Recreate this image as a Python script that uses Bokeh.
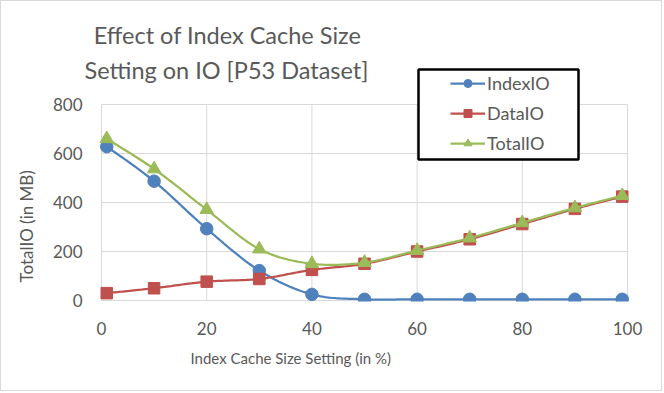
from bokeh.plotting import figure
from bokeh.models import Label, BoxAnnotation, Legend, LegendItem, FixedTicker, Title
from bokeh.embed import file_html
from bokeh.resources import INLINE

# ---- data ----
cache_pct = [1, 10, 20, 30, 40, 50, 60, 70, 80, 90, 99]
index_io = [628, 487, 293, 122, 25, 5, 5, 5, 5, 5, 5]
data_io = [30, 50, 77, 88, 125, 150, 200, 250, 312, 374, 424]
total_io = [660, 537, 371, 210, 150, 155, 204, 255, 317, 378, 428]
x_ticks = [0, 20, 40, 60, 80, 100]
y_ticks = [0, 200, 400, 600, 800]

FONT = "Lato"
GRAY = "#595959"
GRID = "#d9d9d9"
W, H = 662, 391
# pixel layout (figure pixels)
XZ, XH, YZ, Y8 = 100, 626, 299, 103      # x=0, x=100, y=0, y=800
FL, FR, FT, FB = 78, 628, 0, 300         # frame edges
kx = (XH - XZ) / (x_ticks[-1] - x_ticks[0])
ky = (YZ - Y8) / (y_ticks[-1] - y_ticks[0])


def dx(px):
    return x_ticks[0] + (px - XZ) / kx


def dy(py):
    return y_ticks[0] + (YZ - py) / ky


p = figure(width=W, height=H, x_range=(dx(FL), dx(FR)), y_range=(dy(FB), dy(FT)),
           output_backend="svg", toolbar_location=None, title=None,
           min_border_left=FL, min_border_right=W - FR,
           min_border_top=FT, min_border_bottom=H - FB)
p.background_fill_color = "white"
p.border_fill_color = "white"
p.outline_line_color = None
p.grid.visible = False
p.styles = {"border": "1px solid #d9d9d9"}

# grid lines limited to the plotting area
nx, ny = len(x_ticks), len(y_ticks)
p.segment(x0=x_ticks, y0=[y_ticks[0]] * nx, x1=x_ticks, y1=[y_ticks[-1]] * nx,
          line_color=GRID, line_width=1)
p.segment(x0=[x_ticks[0]] * ny, y0=y_ticks, x1=[x_ticks[-1]] * ny, y1=y_ticks,
          line_color=GRID, line_width=1)

for ax in (p.xaxis, p.yaxis):
    ax.axis_line_color = None
    ax.major_tick_line_color = None
    ax.minor_tick_line_color = None
    ax.major_tick_out = 0
    ax.major_tick_in = 0
    ax.minor_tick_out = 0
    ax.minor_tick_in = 0
    ax.major_label_text_font = FONT
    ax.major_label_text_font_size = "17px"
    ax.major_label_text_color = GRAY
p.xaxis.ticker = FixedTicker(ticks=x_ticks)
p.yaxis.ticker = FixedTicker(ticks=y_ticks)
p.xaxis.bounds = (x_ticks[0], x_ticks[-1])
p.yaxis.bounds = (y_ticks[0], y_ticks[-1])
p.xaxis.major_label_standoff = 20
p.yaxis.major_label_standoff = FL - 81

# axis titles
p.add_layout(Title(text="TotalIO (in MB)", align="left", offset=FB - 281,
                   text_font=FONT, text_font_size="17px", text_font_style="normal",
                   text_color=GRAY, standoff=25), "left")
p.add_layout(Title(text="Index Cache Size Setting (in %)", align="left", offset=189 - FL,
                   text_font=FONT, text_font_size="15px", text_font_style="normal",
                   text_color=GRAY, standoff=18), "below")


def smooth(xs, ys, n=24):
    pts = list(zip(xs, ys))
    ox, oy = [], []
    for i in range(len(pts) - 1):
        p0 = pts[i - 1] if i > 0 else pts[i]
        p1 = pts[i]
        p2 = pts[i + 1]
        p3 = pts[i + 2] if i + 2 < len(pts) else pts[i + 1]
        c1 = (p1[0] + (p2[0] - p0[0]) / 6.0, p1[1] + (p2[1] - p0[1]) / 6.0)
        c2 = (p2[0] - (p3[0] - p1[0]) / 6.0, p2[1] - (p3[1] - p1[1]) / 6.0)
        for k in range(n):
            t = k / n
            a, b, c, d = (1 - t) ** 3, 3 * (1 - t) ** 2 * t, 3 * (1 - t) * t ** 2, t ** 3
            ox.append(a * p1[0] + b * c1[0] + c * c2[0] + d * p2[0])
            oy.append(a * p1[1] + b * c1[1] + c * c2[1] + d * p2[1])
    ox.append(pts[-1][0])
    oy.append(pts[-1][1])
    return ox, oy


series = [
    ("IndexIO", index_io, "#4f81bd", "circle", 12.5),
    ("DataIO", data_io, "#c0504d", "square", 11.5),
    ("TotalIO", total_io, "#9bbb59", "triangle", 13.5),
]
items = []
for name, ys, col, mk, sz in series:
    sx_, sy_ = smooth(cache_pct, ys)
    ln = p.line(sx_, sy_, line_color=col, line_width=2.25)
    sc = p.scatter(cache_pct, ys, marker=mk, size=sz, fill_color=col, line_color=col)
    items.append(LegendItem(label=name, renderers=[ln, sc]))

# legend frame (white box with black border)
box = BoxAnnotation(left=dx(417), right=dx(577), top=dy(68), bottom=dy(158),
                    fill_color="white", fill_alpha=1.0, line_color="black", line_width=2.5,
                    line_alpha=1.0)
p.add_layout(box)

leg = Legend(items=items, location=(449 - FL, FB - 153), padding=5, spacing=8,
             glyph_width=35, glyph_height=20, label_height=20, label_standoff=2,
             label_text_font=FONT, label_text_font_size="18px", label_text_color=GRAY,
             border_line_color=None, background_fill_alpha=0.0)
p.add_layout(leg)

for txt, cx, cy in (("Effect of Index Cache Size", 226, 33),
                    ("Setting on IO [P53 Dataset]", 225, 68)):
    p.add_layout(Label(x=dx(cx), y=dy(cy), text=txt, text_align="center",
                       text_baseline="middle", text_font=FONT, text_font_size="23.5px",
                       text_color=GRAY))

open("out.html", "w").write(file_html(p, INLINE))
